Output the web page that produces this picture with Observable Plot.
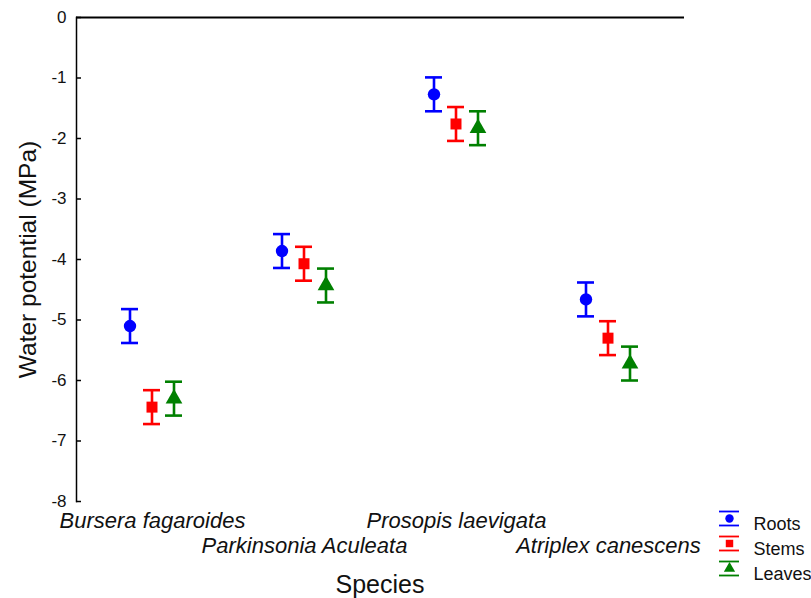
<!DOCTYPE html>
<html>
<head>
<meta charset="utf-8">
<script src="https://cdn.jsdelivr.net/npm/d3@7"></script>
<script src="https://cdn.jsdelivr.net/npm/@observablehq/plot@0.6"></script>
<style>
  html, body { margin: 0; padding: 0; background: #fff; }
  #wrap { position: relative; width: 811px; height: 598px; overflow: hidden; font-family: "Liberation Sans", Arial, sans-serif; }
  #legend { position: absolute; left: 710px; top: 500px; }
  #legend svg { overflow: visible; }
</style>
</head>
<body>
<div id="wrap"><div id="chart"></div><div id="legend"></div></div>
<script>
const species = ["Bursera fagaroides", "Parkinsonia Aculeata", "Prosopis laevigata", "Atriplex canescens"];
const organs = ["Roots", "Stems", "Leaves"];
const colors = ["#0000ff", "#ff0000", "#008000"];
const symbols = ["circle", "square", "triangle"];
const rootsMean = [-5.10, -3.86, -1.27, -4.66];
const stemsMean = [-6.44, -4.07, -1.76, -5.30];
const leavesMean = [-6.30, -4.43, -1.83, -5.72];
const rootsErr = [0.28, 0.28, 0.28, 0.28];
const stemsErr = [0.28, 0.28, 0.28, 0.28];
const leavesErr = [0.28, 0.28, 0.28, 0.28];
const yTicks = [0, -1, -2, -3, -4, -5, -6, -7, -8];

const means = [rootsMean, stemsMean, leavesMean];
const errs = [rootsErr, stemsErr, leavesErr];
const data = [];
species.forEach((s, i) => organs.forEach((o, j) => {
  data.push({species: s, organ: o, mean: means[j][i], lo: means[j][i] - errs[j][i], hi: means[j][i] + errs[j][i]});
}));

const font = "'Liberation Sans', Arial, sans-serif";
const chart = Plot.plot({
  width: 811, height: 598,
  marginLeft: 76, marginRight: 127, marginTop: 17, marginBottom: 97,
  style: {fontFamily: font, color: "#111", background: "#fff"},
  fx: {domain: species, padding: 0},
  x: {type: "band", domain: organs, paddingInner: 0.217, paddingOuter: 1.913, axis: null},
  y: {domain: [-8, 0], axis: null},
  color: {domain: organs, range: colors},
  symbol: {domain: organs, range: symbols},
  marks: [
    Plot.frame({anchor: "left", facetAnchor: "left", stroke: "#000", strokeWidth: 1.5}),
    Plot.ruleY([0], {stroke: "#000", strokeWidth: 2}),
    Plot.axisY({ticks: yTicks, tickSize: 5, dx: 5, text: null, label: null, stroke: "#000", strokeWidth: 1.5}),
    Plot.axisY({ticks: yTicks, tickSize: 0, tickPadding: 10, fontSize: 17, tickFormat: d => String(d), label: null}),
    Plot.axisY({ticks: [-4], tickSize: 0, tickFormat: () => "", fontSize: 24.5, label: "Water potential (MPa)", labelAnchor: "center", labelArrow: "none", labelOffset: 58}),
    Plot.axisFx({anchor: "bottom", ticks: [species[0], species[2]], tickSize: 0, tickPadding: 11, fontSize: 22, fontStyle: "italic", label: null}),
    Plot.axisFx({anchor: "bottom", ticks: [species[1], species[3]], tickSize: 0, tickPadding: 36, fontSize: 22, fontStyle: "italic", label: null}),
    Plot.ruleX(data, {fx: "species", x: "organ", y1: "lo", y2: "hi", stroke: "organ", strokeWidth: 2.6}),
    Plot.tickY(data, {fx: "species", x: "organ", y: "lo", stroke: "organ", strokeWidth: 2.6}),
    Plot.tickY(data, {fx: "species", x: "organ", y: "hi", stroke: "organ", strokeWidth: 2.6}),
    Plot.dot(data, {fx: "species", x: "organ", y: "mean", symbol: "organ", fill: "organ", r: 6.2, stroke: "none"})
  ]
});
document.getElementById("chart").appendChild(chart);

// "Species" axis title, centered under the whole frame
const svg = d3.select(chart);
svg.append("text")
  .attr("x", (76 + (811 - 127)) / 2).attr("y", 586)
  .attr("text-anchor", "middle").attr("dominant-baseline", "middle")
  .style("font-family", font).style("font-size", "25px").attr("fill", "#111")
  .text("Species");

// Legend
const legend = Plot.plot({
  width: 101, height: 80,
  marginLeft: 9, marginRight: 72, marginTop: 17, marginBottom: 12,
  style: {fontFamily: font, color: "#111", background: "transparent"},
  x: {type: "band", domain: ["k"], padding: 0, axis: null},
  y: {type: "point", domain: organs, padding: 0, axis: null},
  color: {domain: organs, range: colors},
  symbol: {domain: organs, range: symbols},
  marks: [
    Plot.ruleX(organs, {x: () => "k", y: d => d, insetTop: -7, insetBottom: -7, stroke: d => d, strokeWidth: 1.8}),
    Plot.tickY(organs, {x: () => "k", y: d => d, dy: -7, stroke: d => d, strokeWidth: 1.8}),
    Plot.tickY(organs, {x: () => "k", y: d => d, dy: 7, stroke: d => d, strokeWidth: 1.8}),
    Plot.dot(organs, {x: () => "k", y: d => d, symbol: d => d, fill: d => d, r: 4.2}),
    Plot.text(organs, {x: () => "k", y: d => d, text: d => d, textAnchor: "start", dx: 24, dy: 6, fontSize: 18, fill: "#111"})
  ]
});
document.getElementById("legend").appendChild(legend);
</script>
</body>
</html>
